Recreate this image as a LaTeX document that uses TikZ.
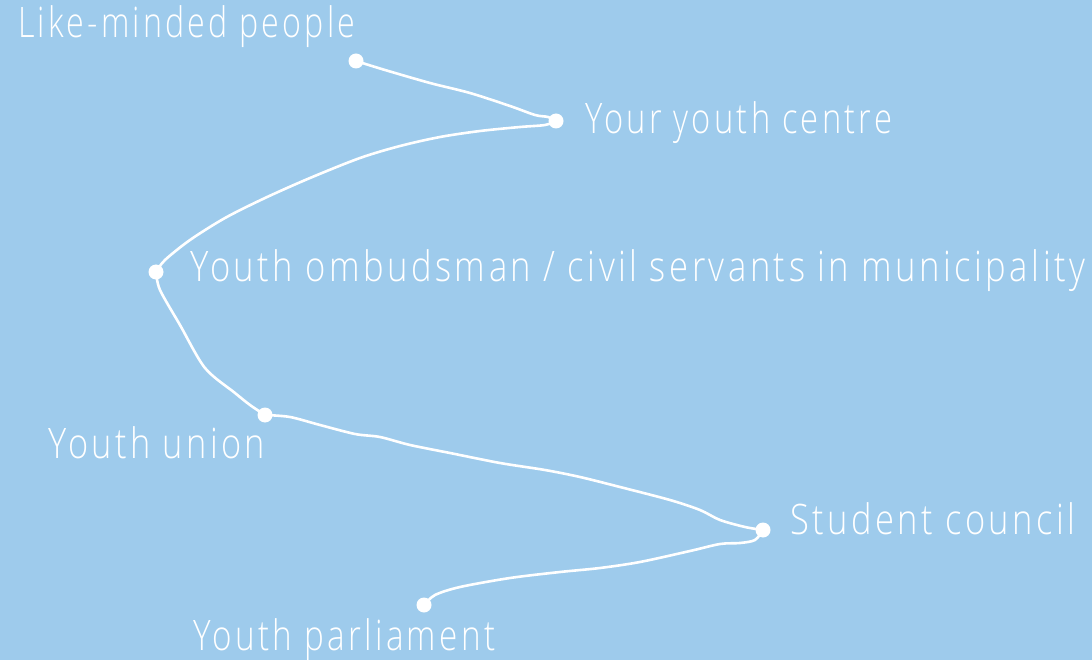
\documentclass[tikz,border=0pt]{standalone}
\usepackage{fontspec}
\setmainfont{Open Sans}[UprightFont={* Light},LetterSpace=10]
\definecolor{bgblue}{HTML}{9ECBEC}
\tikzset{
  dot/.style={circle,fill=white,inner sep=0pt,minimum size=15pt},
  lbl/.style={anchor=base west,inner sep=0pt,text=white,font=\fontsize{42}{48}\selectfont},
  trail/.style={white,line width=2.6pt,line cap=round,line join=round}
}
\newcommand\fitw[2]{\resizebox{#1pt}{\height}{#2}}
\begin{document}
\begin{tikzpicture}[x=1pt,y=-1pt]
\fill[bgblue] (0,0) rectangle (1092,660);
\useasboundingbox (0,0) rectangle (1092,660);
\node[dot] (p1) at (356,61) {};
\node[dot] (p2) at (556,121) {};
\node[dot] (p3) at (156,272) {};
\node[dot] (p4) at (265,415) {};
\node[dot] (p5) at (763,530) {};
\node[dot] (p6) at (424,605) {};
\draw[trail] plot[smooth,tension=0.5] coordinates {(p1.center) (385,70) (430,83) (470,93) (510,106) (535,115) (548,117) (p2.center)};
\draw[trail] plot[smooth,tension=0.5] coordinates {(p2.center) (545,125) (520,127) (480,131) (440,137) (400,146) (360,158) (310,178) (265,198) (225,218) (190,240) (165,260) (p3.center)};
\draw[trail] plot[smooth,tension=0.5] coordinates {(p3.center) (160,290) (180,325) (205,368) (235,393) (250,405) (p4.center)};
\draw[trail] plot[smooth,tension=0.5] coordinates {(p4.center) (290,417) (320,425) (355,434) (380,437) (410,445) (450,453) (500,463) (545,470) (580,477) (620,487) (670,500) (700,510) (720,520) (745,527) (p5.center)};
\draw[trail] plot[smooth,tension=0.5] coordinates {(p5.center) (755,540) (740,543) (720,544) (690,551) (640,562) (600,568) (560,572) (510,578) (460,587) (435,595) (p6.center)};
\node[lbl] (t1) at (18,38) {\fitw{337}{Like-minded people}};
\node[lbl] (t2) at (585,134) {\fitw{307}{Your youth centre}};
\node[lbl] (t3) at (190,282) {\fitw{895}{Youth ombudsman / civil servants in municipality}};
\node[lbl] (t4) at (48,458) {\fitw{217}{Youth union}};
\node[lbl] (t5) at (790,534) {\fitw{285}{Student council}};
\node[lbl] (t6) at (193,650) {\fitw{302}{Youth parliament}};
\end{tikzpicture}
\end{document}
